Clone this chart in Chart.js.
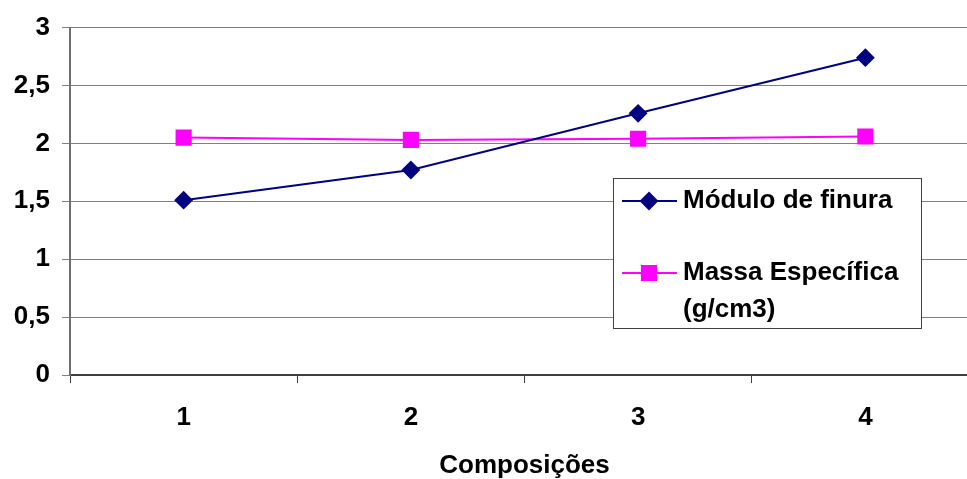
<!DOCTYPE html>
<html>
<head>
<meta charset="utf-8">
<script src="https://cdn.jsdelivr.net/npm/chart.js@4"></script>
<style>
  html, body { margin: 0; padding: 0; background: #fff; overflow: hidden; }
</style>
</head>
<body>
<canvas id="myChart" width="1000" height="479"></canvas>
<script>
// data
var composicoes = ["1", "2", "3", "4"];
var moduloFinura = [1.51, 1.77, 2.26, 2.74];
var massaEspecifica = [2.05, 2.03, 2.04, 2.06];
var yTicks = [0, 0.5, 1, 1.5, 2, 2.5, 3];

var fontFamily = "'Liberation Sans', Arial, sans-serif";

// legend box drawn inside the plot, like the original
const boxLegend = {
  id: "boxLegend",
  afterDraw(chart) {
    const ctx = chart.ctx;
    const bx = 613, by = 178, bw = 308, bh = 150;
    ctx.save();
    ctx.fillStyle = "#fff";
    ctx.fillRect(bx, by, bw, bh);
    ctx.strokeStyle = "#404040";
    ctx.lineWidth = 1;
    ctx.strokeRect(bx + 0.5, by + 0.5, bw, bh);

    const rows = [201, 273];
    chart.data.datasets.forEach(function (ds, i) {
      const y = rows[i];
      ctx.strokeStyle = ds.borderColor;
      ctx.lineWidth = ds.borderWidth;
      ctx.beginPath();
      ctx.moveTo(622, y);
      ctx.lineTo(677, y);
      ctx.stroke();
      ctx.fillStyle = ds.pointBackgroundColor;
      ctx.strokeStyle = ds.pointBorderColor;
      Chart.helpers.drawPoint(ctx, {
        pointStyle: ds.pointStyle,
        radius: ds.pointRadius,
        rotation: 0,
        borderWidth: 1
      }, 649, y);

      // wrap label text
      ctx.fillStyle = "#000";
      ctx.font = "bold 26px " + fontFamily;
      ctx.textBaseline = "middle";
      ctx.textAlign = "left";
      const words = ds.label.split(" ");
      let line = "", ly = y;
      words.forEach(function (w) {
        const test = line ? line + " " + w : w;
        if (ctx.measureText(test).width > 232 && line) {
          ctx.fillText(line, 683, ly);
          line = w;
          ly += 37;
        } else {
          line = test;
        }
      });
      ctx.fillText(line, 683, ly);
    });
    ctx.restore();
  }
};

const ctx = document.getElementById("myChart");
new Chart(ctx, {
  type: "line",
  data: {
    labels: composicoes,
    datasets: [
      {
        label: "Módulo de finura",
        data: moduloFinura,
        borderColor: "#000080",
        backgroundColor: "#000080",
        pointBackgroundColor: "#000080",
        pointBorderColor: "#000080",
        pointStyle: "rectRot",
        pointRadius: 8,
        borderWidth: 2
      },
      {
        label: "Massa Específica (g/cm3)",
        data: massaEspecifica,
        borderColor: "#FF00FF",
        backgroundColor: "#FF00FF",
        pointBackgroundColor: "#FF00FF",
        pointBorderColor: "#FF00FF",
        pointStyle: "rect",
        pointRadius: 10,
        borderWidth: 2
      }
    ]
  },
  options: {
    responsive: false,
    animation: false,
    layout: { padding: { top: 27, right: 21, left: 0, bottom: 0 } },
    plugins: {
      legend: { display: false },
      tooltip: { enabled: false }
    },
    scales: {
      x: {
        offset: true,
        grid: {
          offset: true,
          drawOnChartArea: false,
          drawTicks: true,
          tickLength: 8,
          color: "#404040"
        },
        border: { color: "#404040", width: 2 },
        ticks: {
          color: "#000",
          padding: 19,
          font: { family: fontFamily, size: 26, weight: "bold" }
        },
        title: {
          display: true,
          text: "Composições",
          color: "#000",
          padding: { top: 4, bottom: -2 },
          font: { family: fontFamily, size: 26, weight: "bold" }
        },
        afterFit(scale) { scale.height = 104; }
      },
      y: {
        min: 0,
        max: 3,
        afterBuildTicks(scale) {
          scale.ticks = yTicks.map(function (v) { return { value: v }; });
        },
        grid: {
          color: "#808080",
          lineWidth: 1,
          tickLength: 8
        },
        border: { color: "#707070", width: 2 },
        ticks: {
          color: "#000",
          padding: 12,
          font: { family: fontFamily, size: 26, weight: "bold" },
          callback: function (v) { return String(v).replace(".", ","); }
        },
        afterFit(scale) { scale.width = 70; }
      }
    }
  },
  plugins: [boxLegend]
});
</script>
</body>
</html>
